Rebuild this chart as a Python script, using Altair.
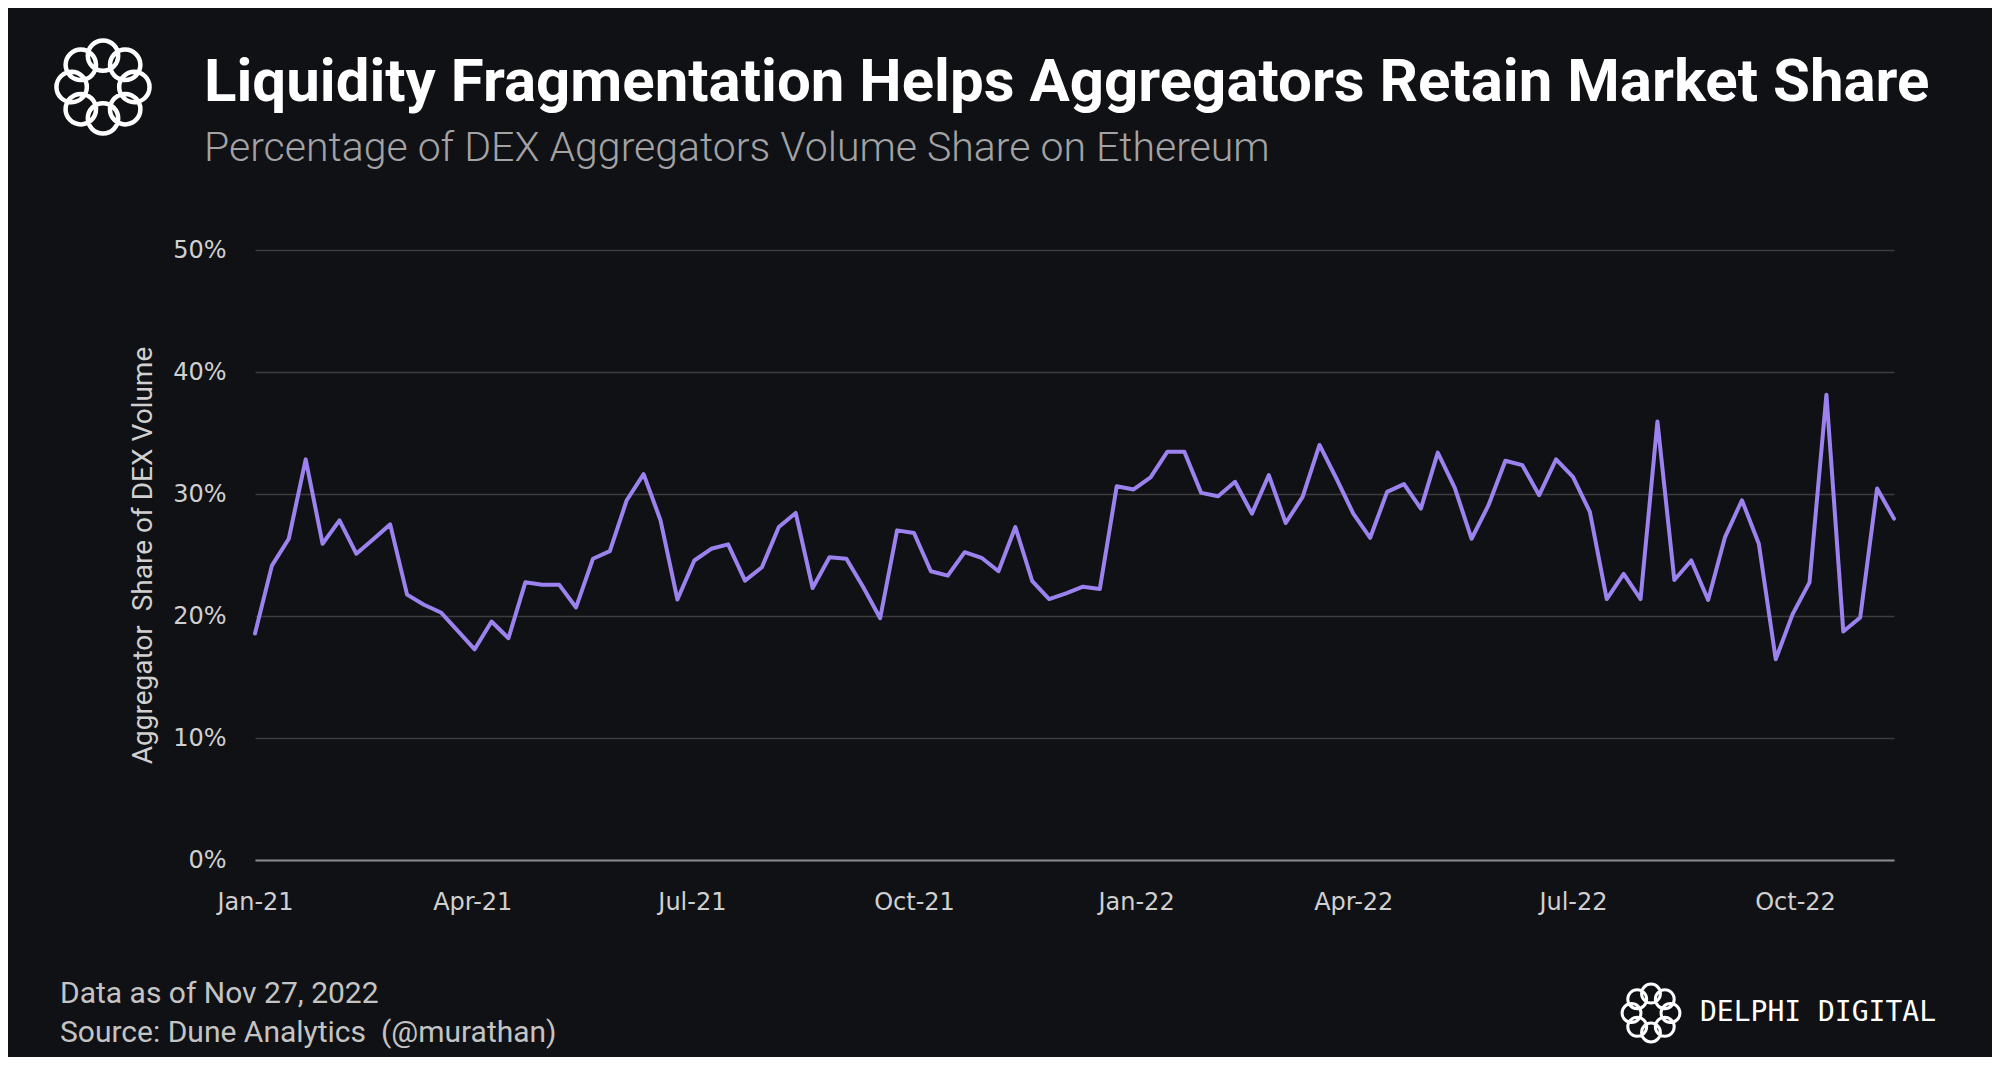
import math
import altair as alt
import pandas as pd

# ---------------- data ----------------
title_text = "Liquidity Fragmentation Helps Aggregators Retain Market Share"
subtitle_text = "Percentage of DEX Aggregators Volume Share on Ethereum"
note_date = "Data as of Nov 27, 2022"
note_source = "Source: Dune Analytics\u00a0 (@murathan)"
brand_text = "DELPHI DIGITAL"
y_title = "Aggregator\u00a0 Share of DEX Volume"

start_date = "2021-01-01"
share_pct = [
    18.56, 24.13, 26.33, 32.84, 25.92, 27.84, 25.10, 26.30, 27.51, 21.75,
    20.92, 20.29, 18.78, 17.27, 19.55, 18.18, 22.76, 22.57, 22.57, 20.70,
    24.69, 25.32, 29.49, 31.63, 27.84, 21.35, 24.55, 25.51, 25.87, 22.90,
    24.00, 27.29, 28.45, 22.30, 24.82, 24.69, 22.35, 19.82, 27.02, 26.80,
    23.67, 23.31, 25.23, 24.77, 23.67, 27.29, 22.85, 21.39, 21.86, 22.40,
    22.22, 30.64, 30.37, 31.36, 33.47, 33.47, 30.09, 29.82, 31.00, 28.39,
    31.55, 27.62, 29.76, 34.02, 31.27, 28.39, 26.41, 30.17, 30.81, 28.80,
    33.39, 30.53, 26.33, 29.08, 32.73, 32.37, 29.90, 32.84, 31.41, 28.53,
    21.39, 23.45, 21.39, 35.94, 22.95, 24.55, 21.31, 26.47, 29.49, 25.92,
    16.45, 20.15, 22.76, 38.14, 18.73, 19.88, 30.45, 27.98,
]
y_ticks = [0, 10, 20, 30, 40, 50]
x_tick_months = [(2021, 1), (2021, 4), (2021, 7), (2021, 10),
                 (2022, 1), (2022, 4), (2022, 7), (2022, 10)]

weeks = pd.date_range(start_date, periods=len(share_pct), freq="7D")
df = pd.DataFrame({"week": weeks, "share": share_pct})

# ---------------- style ----------------
BG = "#101114"
LINE = "#9b82ee"
W, H = 1639, 610
PAD = {"left": 247, "top": 242, "right": 98, "bottom": 197}
AXIS_FONT = "DejaVu Sans"

line = alt.Chart(df).mark_line(
    color=LINE, strokeWidth=4, strokeJoin="round", strokeCap="round"
).encode(
    x=alt.X(
        "week:T",
        scale=alt.Scale(nice=False),
        axis=alt.Axis(
            title=None,
            values=[alt.DateTime(year=y, month=m, date=1) for y, m in x_tick_months],
            format="%b-%y",
            grid=False,
            ticks=False,
            domain=True,
            domainColor="#8a8a8a",
            domainWidth=2,
            labelColor="#d0d0d0",
            labelFont=AXIS_FONT,
            labelFontSize=24,
            labelPadding=30,
            labelBaseline="top",
            labelFlush=False,
            labelBound=False,
            labelOverlap=False,
        ),
    ),
    y=alt.Y(
        "share:Q",
        scale=alt.Scale(domain=[0, 50], nice=False),
        axis=alt.Axis(
            title=y_title,
            values=y_ticks,
            labelExpr="datum.value + '%'",
            grid=True,
            gridColor="#3c3c3f",
            gridWidth=1.5,
            ticks=False,
            domain=False,
            labelColor="#d0d0d0",
            labelFont=AXIS_FONT,
            labelFontSize=24,
            labelPadding=29,
            titleColor="#d0d0d0",
            titleFont="Roboto",
            titleFontSize=28,
            titleFontWeight="normal",
            titleAngle=-90,
            titleX=-112,
            titleY=H / 2,
            titleAlign="center",
            titleBaseline="middle",
        ),
    ),
)

one = pd.DataFrame({"k": [0]})


def text_layer(txt, x, y, size, color, weight="normal", font="Roboto"):
    return alt.Chart(one).mark_text(
        text=txt, align="left", baseline="middle", fontSize=size,
        fontWeight=weight, font=font, color=color,
    ).encode(x=alt.value(x), y=alt.value(y))


# logo shape: ring of interlocking loops
parts = []
for i in range(8):
    a = 2 * math.pi * i / 8
    cx, cy, r = 0.66 * math.cos(a), 0.66 * math.sin(a), 0.32
    parts.append(
        f"M {cx - r:.3f} {cy:.3f} A {r} {r} 0 1 0 {cx + r:.3f} {cy:.3f} "
        f"A {r} {r} 0 1 0 {cx - r:.3f} {cy:.3f} Z"
    )
logo_path = " ".join(parts)


def logo_layer(x, y, diam, sw):
    return alt.Chart(one).mark_point(
        shape=logo_path, filled=False, stroke="white", strokeWidth=sw, opacity=1
    ).encode(x=alt.value(x), y=alt.value(y), size=alt.value(diam * diam))


chart = alt.layer(
    line,
    text_layer(title_text, -51, -167, 60, "#ffffff", weight="bold"),
    text_layer(subtitle_text, -51, -101, 41, "#a3a3a6", weight=300),
    text_layer(note_date, -195, 744, 30, "#c4c4c4"),
    text_layer(note_source, -195, 783, 30, "#c4c4c4"),
    text_layer(brand_text, 1445, 763, 28, "#ffffff", font="DejaVu Sans Mono"),
    logo_layer(-152, -163, 95, 4.5),
    logo_layer(1396, 763, 59, 3),
).properties(
    width=W,
    height=H,
    background=BG,
    padding=PAD,
    autosize=alt.AutoSizeParams(type="none"),
).configure_view(stroke=None)

chart.save("out.html", embed_options={"renderer": "svg", "actions": False})
